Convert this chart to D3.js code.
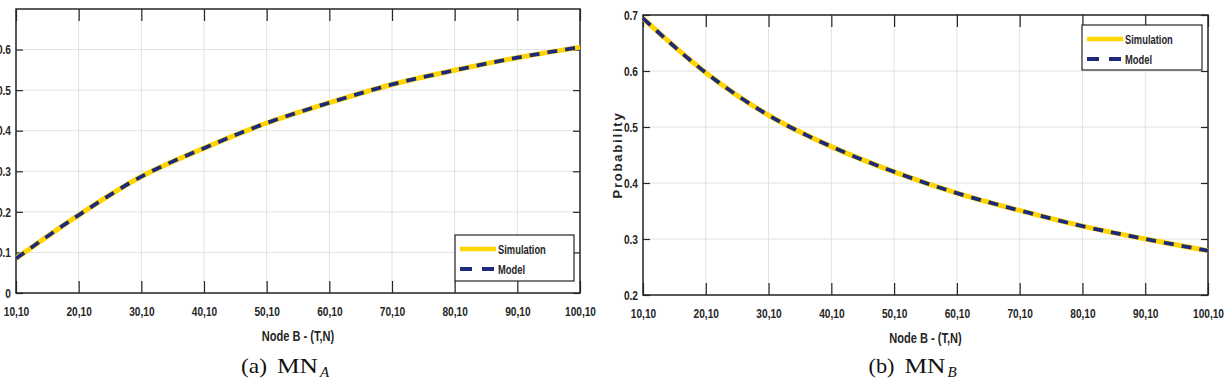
<!DOCTYPE html>
<html><head><meta charset="utf-8">
<script src="https://cdn.jsdelivr.net/npm/d3@7"></script>
<style>
body{margin:0;background:#fff;}
svg{display:block;}
.tk{font-family:"Liberation Sans","Arial",sans-serif;font-weight:bold;fill:#262626;}
.cap{font-family:"Liberation Serif","DejaVu Serif",serif;fill:#111;}
</style></head>
<body>
<svg id="c" width="1224" height="383"></svg>
<script>
const categories = ["10,10","20,10","30,10","40,10","50,10","60,10","70,10","80,10","90,10","100,10"];
const simulationA = [0.085,0.192,0.287,0.357,0.419,0.469,0.514,0.549,0.580,0.606];
const modelA      = [0.085,0.192,0.287,0.357,0.419,0.469,0.514,0.549,0.580,0.606];
const simulationB = [0.694,0.597,0.521,0.465,0.420,0.382,0.351,0.323,0.300,0.279];
const modelB      = [0.694,0.597,0.521,0.465,0.420,0.382,0.351,0.323,0.300,0.279];
const yTicksA = [0,0.1,0.2,0.3,0.4,0.5,0.6];
const yTicksB = [0.2,0.3,0.4,0.5,0.6,0.7];
const legendLabels = ["Simulation","Model"];
const captionA = ["(a)","MN","A"];
const captionB = ["(b)","MN","B"];
const xTitle = "Node B - (T,N)";
const yTitleB = "Probability";

const svg = d3.select("#c");
const simColor = "#FFD500", modColor = "#1C2A7E";

function narrow(sel, f){
  sel.each(function(){
    const w = this.getComputedTextLength();
    if (w > 0) d3.select(this).attr("textLength", w*f).attr("lengthAdjust","spacingAndGlyphs");
  });
}

function panel(cfg){
  const g = svg.append("g");
  const x = d3.scalePoint().domain(categories).range([cfg.x0, cfg.x1]);
  const y = d3.scaleLinear().domain(cfg.ydom).range([cfg.y1, cfg.y0]);
  // grid
  g.append("g").selectAll("line").data(categories).join("line")
    .attr("x1",d=>x(d)).attr("x2",d=>x(d)).attr("y1",cfg.y0).attr("y2",cfg.y1)
    .attr("stroke","#e2e2e2").attr("stroke-width",1);
  g.append("g").selectAll("line").data(cfg.yticks).join("line")
    .attr("x1",cfg.x0).attr("x2",cfg.x1).attr("y1",d=>y(d)).attr("y2",d=>y(d))
    .attr("stroke","#e2e2e2").attr("stroke-width",1);
  // axes
  const xb = g.append("g").attr("transform",`translate(0,${cfg.y1})`)
    .call(d3.axisBottom(x).tickSizeInner(-12).tickSizeOuter(0).tickPadding(14));
  const xt = g.append("g").attr("transform",`translate(0,${cfg.y0})`)
    .call(d3.axisTop(x).tickSizeInner(-12).tickSizeOuter(0).tickFormat(""));
  const yl = g.append("g").attr("transform",`translate(${cfg.x0},0)`)
    .call(d3.axisLeft(y).tickValues(cfg.yticks).tickSizeInner(-7).tickSizeOuter(0).tickPadding(5).tickFormat(d3.format("")));
  const yr = g.append("g").attr("transform",`translate(${cfg.x1},0)`)
    .call(d3.axisRight(y).tickValues(cfg.yticks).tickSizeInner(-7).tickSizeOuter(0).tickFormat(""));
  [xb,xt,yl,yr].forEach(a=>{
    a.select(".domain").remove();
    a.selectAll("line").attr("stroke","#262626").attr("stroke-width",1.2);
    a.selectAll("text").attr("class","tk").style("font-size","13px").attr("fill","#262626");
    narrow(a.selectAll("text"), 0.78);
  });
  // frame
  g.append("rect").attr("x",cfg.x0).attr("y",cfg.y0).attr("width",cfg.x1-cfg.x0).attr("height",cfg.y1-cfg.y0)
    .attr("fill","none").attr("stroke","#262626").attr("stroke-width",1.5);
  // lines
  const line = d3.line().x((d,i)=>x(categories[i])).y(d=>y(d)).curve(d3.curveMonotoneX);
  g.append("path").datum(cfg.sim).attr("d",line).attr("fill","none").attr("stroke",simColor).attr("stroke-width",5);
  g.append("path").datum(cfg.mod).attr("d",line).attr("fill","none").attr("stroke",modColor).attr("stroke-width",3.8).attr("stroke-dasharray","10,8");
  // legend
  const L = cfg.leg;
  g.append("rect").attr("x",L.x).attr("y",L.y).attr("width",L.w).attr("height",L.h)
    .attr("fill","#fff").attr("stroke","#262626").attr("stroke-width",1.2);
  const r1 = L.y + 14, r2 = L.y + 34;
  g.append("line").attr("x1",L.x+5).attr("x2",L.x+41).attr("y1",r1).attr("y2",r1).attr("stroke",simColor).attr("stroke-width",4.5);
  g.append("line").attr("x1",L.x+5).attr("x2",L.x+41).attr("y1",r2).attr("y2",r2).attr("stroke",modColor).attr("stroke-width",4).attr("stroke-dasharray","12,10");
  const lt1 = g.append("text").attr("class","tk").attr("x",L.x+43).attr("y",r1+5).style("font-size","13px").text(legendLabels[0]);
  const lt2 = g.append("text").attr("class","tk").attr("x",L.x+43).attr("y",r2+5).style("font-size","13px").text(legendLabels[1]);
  narrow(lt1,0.72); narrow(lt2,0.72);
  // x title
  const xtl = g.append("text").attr("class","tk").attr("x",(cfg.x0+cfg.x1)/2).attr("y",cfg.y1+48)
    .attr("text-anchor","middle").style("font-size","14px").text(xTitle);
  narrow(xtl,0.79);
  if(cfg.ytitle){
    g.append("text").attr("class","tk").attr("transform",`translate(${cfg.x0-21},${(cfg.y0+cfg.y1)/2}) rotate(-90)`)
      .attr("text-anchor","middle").style("font-size","13px").style("letter-spacing","1.8px").text(cfg.ytitle);
  }
  // caption
  const cx = (cfg.x0+cfg.x1)/2 - 57;
  const t1 = g.append("text").attr("class","cap").attr("x",cx).attr("y",373).style("font-size","21px").text(cfg.cap[0]);
  t1.attr("textLength",26).attr("lengthAdjust","spacingAndGlyphs");
  const t2 = g.append("text").attr("class","cap").attr("x",cx+36).attr("y",373).style("font-size","21px").text(cfg.cap[1]);
  t2.attr("textLength",41).attr("lengthAdjust","spacingAndGlyphs");
  g.append("text").attr("class","cap").attr("x",cx+79).attr("y",377).style("font-size","15px").style("font-style","italic").text(cfg.cap[2]);
}

panel({x0:16,x1:580,y0:9,y1:293,ydom:[0,0.7],yticks:yTicksA,sim:simulationA,mod:modelA,
  leg:{x:455,y:235,w:119,h:46},cap:captionA});
panel({x0:643,x1:1208,y0:15,y1:295,ydom:[0.2,0.7],yticks:yTicksB,sim:simulationB,mod:modelB,
  leg:{x:1082,y:25,w:120,h:45},cap:captionB,ytitle:yTitleB});
</script>
</body></html>
